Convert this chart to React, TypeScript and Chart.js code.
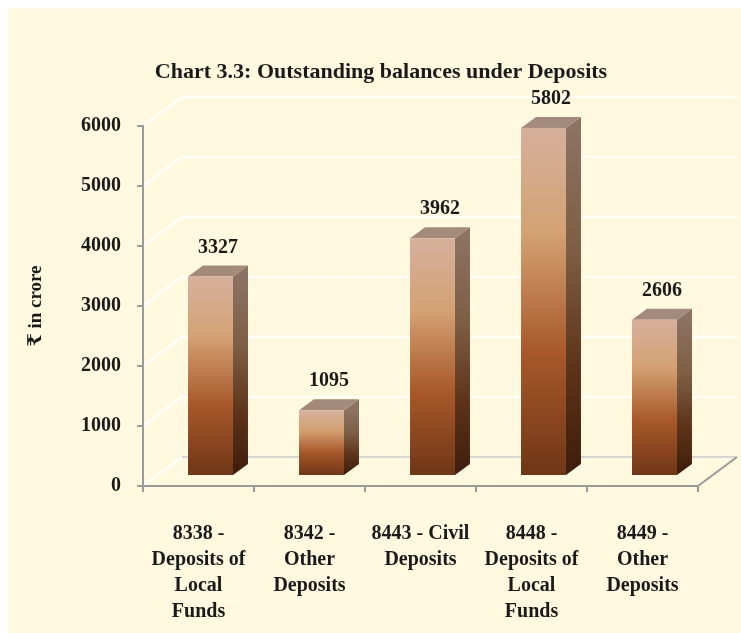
import React, { useEffect, useRef } from 'react';
import { Chart, registerables } from 'chart.js';

Chart.register(...registerables);

const categories: string[][] = [
  ['8338 -', 'Deposits of', 'Local', 'Funds'],
  ['8342 -', 'Other', 'Deposits'],
  ['8443 - Civil', 'Deposits'],
  ['8448 -', 'Deposits of', 'Local', 'Funds'],
  ['8449 -', 'Other', 'Deposits'],
];
const balances: number[] = [3327, 1095, 3962, 5802, 2606];
const yTicks: number[] = [0, 1000, 2000, 3000, 4000, 5000, 6000];
const titleText = 'Chart 3.3: Outstanding balances under Deposits';
const yTitle = '₹ in crore';

const FONT = '"Liberation Serif", "Times New Roman", "DejaVu Serif", serif';
const TEXT = '#1a1a1a';
const AXIS = '#9a9a9a';
const BG = '#FFFADF';

const DEPTH = { x: 39, y: -29 };
const BAR_OFF = { x: 12, y: -10 };
const BAR_DEPTH = { x: 15, y: -11 };

const wallsPlugin = {
  id: 'walls3d',
  beforeDraw(chart: any) {
    const { ctx, chartArea: a, scales } = chart;
    const y = scales.y;
    ctx.save();
    ctx.lineWidth = 2;
    yTicks.forEach((v) => {
      const py = y.getPixelForValue(v);
      ctx.strokeStyle = '#ffffff';
      ctx.beginPath();
      ctx.moveTo(a.left, py);
      ctx.lineTo(a.left + DEPTH.x, py + DEPTH.y);
      ctx.stroke();
      ctx.strokeStyle = v === 0 ? '#d6d6d6' : '#ffffff';
      ctx.beginPath();
      ctx.moveTo(a.left + DEPTH.x, py + DEPTH.y);
      ctx.lineTo(a.right + DEPTH.x, py + DEPTH.y);
      ctx.stroke();
    });
    ctx.strokeStyle = AXIS;
    ctx.beginPath();
    ctx.moveTo(a.right, a.bottom);
    ctx.lineTo(a.right + DEPTH.x, a.bottom + DEPTH.y);
    ctx.stroke();
    ctx.restore();
  },
};

const barsPlugin = {
  id: 'bars3d',
  afterDatasetsDraw(chart: any) {
    const { ctx } = chart;
    const meta = chart.getDatasetMeta(0);
    ctx.save();
    meta.data.forEach((el: any, i: number) => {
      const { x, y, base, width } = el.getProps(['x', 'y', 'base', 'width'], true);
      const L = x - width / 2 + BAR_OFF.x;
      const R = x + width / 2 + BAR_OFF.x;
      const T = y + BAR_OFF.y;
      const B = base + BAR_OFF.y;
      // side face
      const sg = ctx.createLinearGradient(0, T, 0, B);
      sg.addColorStop(0, '#8C7262');
      sg.addColorStop(0.35, '#7E5E44');
      sg.addColorStop(0.7, '#5C3218');
      sg.addColorStop(1, '#3E1D0C');
      ctx.fillStyle = sg;
      ctx.beginPath();
      ctx.moveTo(R, T);
      ctx.lineTo(R + BAR_DEPTH.x, T + BAR_DEPTH.y);
      ctx.lineTo(R + BAR_DEPTH.x, B + BAR_DEPTH.y);
      ctx.lineTo(R, B);
      ctx.closePath();
      ctx.fill();
      // top face
      ctx.fillStyle = '#A48A7A';
      ctx.beginPath();
      ctx.moveTo(L, T);
      ctx.lineTo(L + BAR_DEPTH.x, T + BAR_DEPTH.y);
      ctx.lineTo(R + BAR_DEPTH.x, T + BAR_DEPTH.y);
      ctx.lineTo(R, T);
      ctx.closePath();
      ctx.fill();
      // front face
      const fg = ctx.createLinearGradient(0, T, 0, B);
      fg.addColorStop(0, '#D6B09C');
      fg.addColorStop(0.3, '#D4A274');
      fg.addColorStop(0.65, '#A8582A');
      fg.addColorStop(1, '#6F3616');
      ctx.fillStyle = fg;
      ctx.fillRect(L, T, R - L, B - T);
      // value label
      ctx.fillStyle = TEXT;
      ctx.font = `bold 20px ${FONT}`;
      ctx.textAlign = 'center';
      ctx.textBaseline = 'middle';
      ctx.fillText(String(balances[i]), (L + R) / 2 + BAR_DEPTH.x / 2, T + BAR_DEPTH.y - 18);
    });
    ctx.restore();
  },
};

const titlePlugin = {
  id: 'title3d',
  afterDraw(chart: any) {
    const { ctx } = chart;
    ctx.save();
    ctx.fillStyle = TEXT;
    ctx.font = `bold 22px ${FONT}`;
    ctx.textAlign = 'center';
    ctx.textBaseline = 'middle';
    ctx.fillText(titleText, 373, 64);
    ctx.restore();
  },
};

export default function App() {
  const ref = useRef<HTMLCanvasElement | null>(null);
  useEffect(() => {
    if (!ref.current) return;
    const chart = new Chart(ref.current, {
      type: 'bar',
      data: {
        labels: categories,
        datasets: [
          {
            data: balances,
            backgroundColor: 'rgba(0,0,0,0)',
            borderWidth: 0,
            categoryPercentage: 1,
            barPercentage: 0.405,
          },
        ],
      },
      options: {
        responsive: false,
        animation: false,
        devicePixelRatio: 1,
        layout: { padding: { top: 118, right: 43, bottom: 0, left: 0 } },
        plugins: {
          legend: { display: false },
          tooltip: { enabled: false },
          title: { display: false },
        },
        scales: {
          x: {
            grid: { display: true, drawOnChartArea: false, drawTicks: true, tickLength: 6, color: AXIS, lineWidth: 2 },
            border: { display: true, color: AXIS, width: 2 },
            ticks: {
              font: { family: FONT, size: 20, weight: 'bold', lineHeight: 1.3 },
              color: TEXT,
              padding: 29,
              maxRotation: 0,
              autoSkip: false,
            },
            afterFit: (s: any) => {
              s.height = 147;
            },
          },
          y: {
            min: 0,
            max: 6000,
            afterBuildTicks: (s: any) => {
              s.ticks = yTicks.map((v) => ({ value: v }));
            },
            grid: { display: true, drawOnChartArea: false, drawTicks: true, tickLength: 6, color: AXIS, lineWidth: 2 },
            border: { display: true, color: AXIS, width: 2 },
            ticks: {
              font: { family: FONT, size: 20, weight: 'bold' },
              color: TEXT,
              padding: 16,
              callback: (v: any) => String(v),
            },
            title: {
              display: true,
              text: yTitle,
              font: { family: FONT, size: 19, weight: 'bold' },
              color: TEXT,
              padding: { top: 17, bottom: 0 },
            },
            afterFit: (s: any) => {
              s.width = 135;
            },
          },
        },
      },
      plugins: [wallsPlugin, barsPlugin, titlePlugin],
    } as any);
    return () => chart.destroy();
  }, []);
  return (
    <canvas
      ref={ref}
      width={733}
      height={625}
      style={{ position: 'fixed', left: 8, top: 8, width: 733, height: 625, background: BG }}
    />
  );
}
